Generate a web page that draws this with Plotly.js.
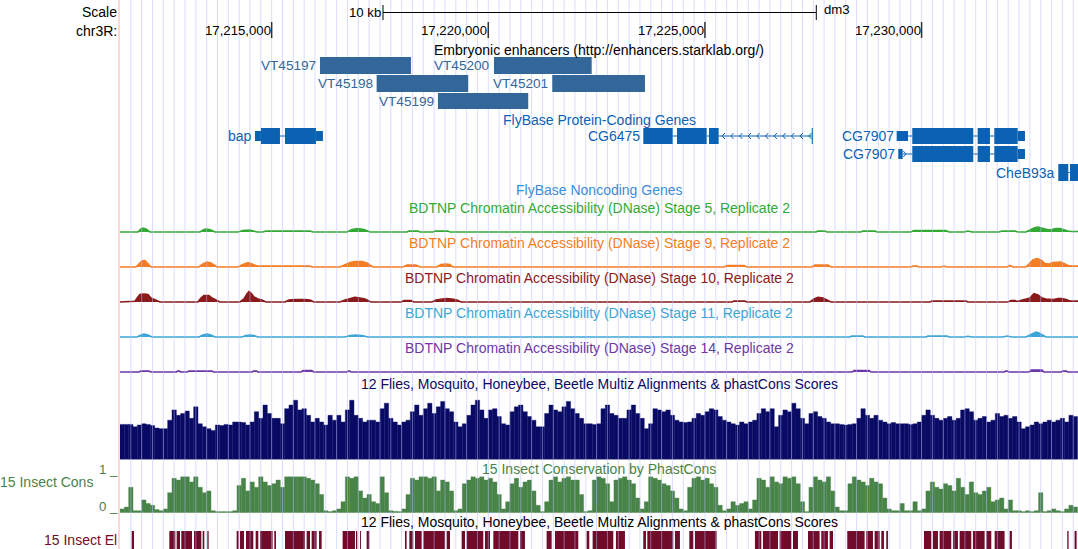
<!DOCTYPE html>
<html><head><meta charset="utf-8">
<script src="https://cdn.plot.ly/plotly-3.0.1.min.js"></script>
<style>html,body{margin:0;padding:0;background:#fff;}#chart{width:1078px;height:549px;}</style>
</head><body><div id="chart"></div>
<script>
// ---------------- data ----------------
const viewStart = 17211500, viewEnd = 17233610;
const tickVals = [17215000, 17220000, 17225000, 17230000];
const tickText = ['17,215,000', '17,220,000', '17,225,000', '17,230,000'];
const scaleBarStart = 17217570, scaleBarLen = 10000;

const enhancerNames = ['VT45197', 'VT45198', 'VT45199', 'VT45200', 'VT45201'];
const enhancerStart = [17216115, 17217423, 17218838, 17220131, 17221476];
const enhancerEnd   = [17218215, 17219537, 17220922, 17222386, 17223616];
const enhancerRow   = [0, 1, 2, 0, 1];

const geneNames  = ['bap', 'CG6475', 'CG7907', 'CG7907', 'CheB93a'];
const geneRows   = [0, 0, 0, 1, 2];
const geneStrand = ['+', '-', '+', '+', '-'];
// [start, end, coding(1)/UTR(0)]
const geneBlocks = [
  [[17214615,17214753,0],[17214753,17215192,1],[17215307,17216022,1],[17216022,17216184,0]],
  [[17223577,17224255,1],[17224354,17225040,1],[17225093,17225317,1],[17227465,17227490,1]],
  [[17229425,17229686,0],[17229785,17231193,1],[17231294,17231578,1],[17231678,17232218,1],[17232218,17232386,0]],
  [[17229462,17229563,0],[17229785,17231193,1],[17231294,17231578,1],[17231678,17232218,1],[17232218,17232386,0]],
  [[17233155,17233386,1],[17233425,17233700,1]]
];

// DNase accessibility signal (position bp, signal)
const dnase5X = [17211914,17211983,17212030,17212099,17212191,17213345,17213437,17213506,17213599,17213691,17214222,17214337,17214499,17214661,17214799,17214868,17215884,17215953,17216738,17216853,17216992,17217130,17217269,17218123,17218169,17218377,17218423,17218723,17218769,17219069,17219115,17227562,17227608,17227770,17227816,17228600,17228647,17228924,17228970,17229754,17229824,17230562,17230632,17230978,17231070,17231162,17231786,17231855,17232155,17232224,17232409,17232501,17232593,17232686,17232778,17232870,17232940,17233009,17233101,17233194,17233286,17233378,17233471,17233609];
const dnase5Y = [0,3,4,3,0,0,2.5,3,2,0,0,1.5,2,0,0,1,1,0,0,2.5,3.5,2.5,0,0,1,1,0,0,1,1,0,0,1,1,0,0,1,1,0,0,1.5,1.5,0,0,1,0,0,1,1,0,0,2,4,5,4,2.5,2,2.5,3.5,3.5,2,1,0.5,0.5];
const dnase9X = [17211868,17211937,17212006,17212076,17212145,17212214,17213322,17213414,17213506,17213599,17213737,17214222,17214337,17214453,17214545,17214661,17215884,17215930,17216576,17216692,17216807,17216923,17217084,17217200,17217338,17218030,17218123,17218330,17218423,17218815,17218907,17219023,17219115,17219184,17225439,17225509,17225901,17225970,17227470,17227539,17227839,17227908,17229754,17229801,17229893,17229939,17230447,17230516,17230585,17231971,17232040,17232109,17232409,17232478,17232570,17232663,17232755,17232847,17232940,17233032,17233124,17233217,17233309,17233378,17233471,17233609];
const dnase9Y = [0,3,6,6.5,3,0,0,3,5,4,0,0,2.5,4.3,3,1,1,0,0,2.5,4.5,5.5,5.5,4,0,0,2,2,0,0,2.5,3,2.5,0,0,1.5,1.5,0,0,2,2,0,0,1,1,0,0,1,0,0,1.5,0,0,3,7,8.5,7,3.5,3,4.5,5,5,3,1.5,1,1];
const dnase10X = [17211568,17211614,17211845,17211914,17211960,17212053,17212145,17212214,17212306,17212422,17213299,17213368,17213437,17213553,17213622,17213714,17213807,17214268,17214361,17214430,17214476,17214522,17214592,17214684,17214776,17214868,17215307,17215399,17215538,17215768,17215884,17215976,17216576,17216692,17216807,17216923,17217038,17217154,17217292,17217992,17218053,17218215,17218284,17218700,17218792,17218907,17219023,17219161,17219277,17219369,17225624,17225670,17225924,17225970,17227424,17227516,17227608,17227724,17227816,17227908,17230193,17230239,17231024,17231070,17231994,17232063,17232155,17232201,17232501,17232593,17232686,17232778,17232870,17232963,17233055,17233147,17233240,17233332,17233424,17233609];
const dnase10Y = [0,0.7,0.7,5,7.5,8,7.5,4,2,0,0,4,6.5,6.5,4,2,0,0,3,8,10.5,9,5,3,2,0,0,2,2.5,2.5,2,0,0,2,3.5,4.7,4,3,0,0,1.5,1.5,0,0,2,3,3.5,3,2,0,0,1,1,0,0,3,4.6,4,2,0,0,1,1,0,0,1.5,1.5,0.5,4,8.4,7,4,3,2.5,2.5,3.5,3.5,2.5,1,1];
const dnase11X = [17211891,17211983,17212053,17212145,17212237,17213322,17213414,17213506,17213599,17213691,17214315,17214407,17214499,17214592,17214684,17216692,17216807,17216946,17217084,17217223,17228347,17228393,17228647,17228693,17230101,17230147,17230585,17230632,17230978,17231070,17231162,17231878,17231971,17232086,17232409,17232501,17232593,17232640,17232709,17232778,17232870];
const dnase11Y = [0,2,3,2,0,0,2,3,2,0,0,1.5,2,1.5,0,0,1.5,2,1.5,0,0,1,1,0,0,1,1,0,0,0.8,0,0,1,0,0,2,4.5,5,4,2,0];
const dnase14X = [17211940,17211980,17212170,17212210,17212800,17212830,17212870,17212900,17213050,17213090,17213620,17213660,17214550,17214580,17214650,17214680,17215680,17215720,17215930,17215970,17216740,17216770,17216800,17216830,17228400,17228440,17228790,17228830,17231910,17231940,17231980,17232010,17232480,17232530,17232780,17232820,17233220,17233260,17233340,17233370];
const dnase14Y = [0,1,1,0,0,1,1,0,0,1,1,0,0,1,1,0,0,1.5,1.5,0,0,1,1,0,0,1.5,1.5,0,0,1,1,0,0,2,2,0,0,1,1,0];

// Multiz / phastCons, 100 bp bins from binStart
const binStart = 17211500, binSize = 100;
const multizScore = [58,58,58,54,57,59,58,56,52,51,51,
65,82,73,76,80,68,87,59,54,51,
48,57,56,58,57,62,62,61,57,62,
79,68,90,76,68,68,59,84,90,98,
82,84,73,62,68,62,57,73,65,73,
62,82,98,73,68,62,65,65,62,84,
93,68,62,57,62,65,79,90,73,84,
93,76,87,96,84,79,62,54,59,73,
90,98,82,68,82,84,71,59,57,79,
87,90,79,71,65,54,54,76,90,82,
79,87,96,84,76,68,59,59,58,59,
84,90,76,73,68,68,82,90,76,68,
51,59,84,82,79,82,73,65,62,61,
62,68,76,73,79,84,82,71,65,62,
59,57,62,59,62,65,76,84,79,84,
54,73,82,79,93,84,68,59,76,79,
71,68,62,59,59,58,57,58,59,68,
84,73,68,73,65,62,59,61,59,59,
59,58,59,62,73,82,73,68,65,68,
71,65,68,82,84,79,65,68,71,62,
65,76,71,73,68,71,62,51,54,57,
62,59,62,65,62,65,68,62,73,71];
const phastCons = [0.1,0.15,0.7,0.05,0.05,0.35,0.25,0.2,0.08,0.05,0.1,
0.55,0.95,0.9,1,1,0.85,1,0.7,0.55,0.6,
0.05,0.02,0.02,0.02,0.02,0.05,0.75,0.95,0.6,0.85,
0.7,1,0.85,0.75,0.8,0.9,0.7,1,1,1,
1,1,0.95,0.9,0.8,0.5,0.05,0.02,0.05,0.1,
0.3,1,0.95,1,0.6,0.4,0.5,0.3,0.25,1,
0.55,0.05,0.03,0.02,0.1,0.5,0.95,0.9,1,1,
0.95,1,0.6,0.9,0.85,0.6,0.05,0.1,0.8,0.9,
1,0.95,1,0.9,0.95,0.85,0.5,0.1,0.3,0.8,
0.95,0.7,0.85,0.9,0.6,0.2,0.02,0.3,0.9,1,
0.85,0.95,1,0.9,0.9,0.5,0.02,0.05,0.9,1,
0.95,0.8,0.3,0.9,0.95,1,0.9,0.8,0.4,0.1,
0.3,1,0.95,0.9,0.8,0.75,0.6,0.4,0.1,0.05,
0.7,0.95,1,0.9,0.95,0.8,0.7,0.2,0.05,0.1,
0.3,0.2,0.25,0.3,0.1,0.35,0.95,0.9,0.7,1,
0.85,0.8,1,0.95,1,0.8,0.3,0.02,0.7,1,
0.9,0.85,1,0.6,0.15,0.05,0.05,0.8,1,0.9,
0.85,0.75,0.95,0.85,0.8,0.4,0.1,0.05,0.05,0.25,
0.05,0.05,0.3,0.05,0.1,0.6,0.85,0.7,0.65,0.8,
0.75,0.6,0.95,0.7,0.5,0.85,0.55,0.5,0.6,0.7,
0.3,0.35,0.4,0.1,0.35,0.05,0.05,0.02,0.05,0.02,
0.05,0.55,0.02,0.05,0.1,0.05,0.02,0.1,0.2,0.15];

// 15 Insect conserved elements
const elStart = [17211769,17212638,17212808,17212915,17213208,17213408,17213515,17214192,17214269,17214408,17214631,17214731,17215061,17215308,17215808,17215923,17216092,17216638,17216946,17217038,17217192,17218077,17218177,17218308,17218500,17219039,17219385,17219500,17219923,17220116,17220731,17221346,17221539,17222269,17222408,17222946,17223577,17223670,17224308,17224639,17224770,17226154,17226339,17226724,17227032,17227378,17227685,17227878,17228285,17228724,17228916,17229070,17229185,17230055,17230262,17230416,17230724,17230878,17231185,17231493,17231686,17232032,17233362,17233531];
const elEnd   = [17211823,17212777,17212885,17213162,17213377,17213446,17213546,17214238,17214362,17214577,17214692,17215023,17215100,17215769,17215885,17216038,17216154,17216923,17216977,17217061,17217254,17218115,17218269,17218462,17219000,17219116,17219462,17219885,17220039,17220693,17220846,17221462,17222077,17222331,17222885,17223154,17223639,17224270,17224423,17224731,17225270,17226301,17226686,17226993,17227147,17227647,17227839,17227955,17228685,17228878,17229032,17229132,17229224,17230224,17230378,17230685,17230839,17231147,17231455,17231609,17231916,17232085,17233393,17233578];

// ---------------- drawing ----------------
const W = 1078, H = 549, L = 120, PW = 958;
const FONT = 'Liberation Sans, Arial, Helvetica, sans-serif';
const FS = 14, FS_NUM = 13.2, FS_ID = 13.6;
const C = {
  enh: 'rgb(51,102,153)', gene: 'rgb(12,98,178)', nonc: 'rgb(60,140,215)',
  s5: 'rgb(51,170,51)', s9: 'rgb(245,125,35)', s10: 'rgb(139,26,26)', s11: 'rgb(60,165,215)', s14: 'rgb(110,55,165)',
  multiz: 'rgb(8,10,100)', cons: 'rgb(72,132,72)', el: 'rgb(112,12,42)'
};
const P = p => 1 - p / H;          // pixel row -> paper
const PX = p => (p - L) / PW;      // pixel column -> paper
const shapes = [], annotations = [];
function txt(t, x, xref, y, color, xanchor, xshift, size) {
  annotations.push({text: t, x: x, xref: xref, y: P(y), yref: 'paper', xanchor: xanchor || 'center',
    yanchor: 'middle', xshift: xshift || 0, showarrow: false, font: {family: FONT, size: size || FS, color: color}});
}
function rect(x0, x1, y0, y1, color) {
  shapes.push({type: 'rect', xref: 'x', yref: 'paper', x0: x0, x1: x1, y0: P(y1), y1: P(y0),
    fillcolor: color, line: {width: 0}, layer: 'above'});
}
function hline(x0, x1, y, color, w, xref) {
  shapes.push({type: 'line', xref: xref || 'x', yref: 'paper', x0: x0, x1: x1, y0: P(y), y1: P(y), line: {color: color, width: w || 1}, layer: 'above'});
}
function vline(x, y0, y1, color, w, xref) {
  shapes.push({type: 'line', xref: xref || 'x', yref: 'paper', x0: x, x1: x, y0: P(y1), y1: P(y0), line: {color: color, width: w || 1}, layer: 'above'});
}

// conserved elements (below guidelines)
elStart.forEach((s, i) => rect(s, elEnd[i], 531, 549, C.el));

// guidelines every 250 bp
for (let g = Math.ceil(viewStart / 250) * 250 + 250; g <= viewEnd; g += 250) {
  vline(g, 0, 549, 'rgba(185,185,255,0.5)', 1);
}
// left border
vline(PX(119), 0, 549, 'rgb(255,215,215)', 2, 'paper');

// Scale row
txt('Scale', PX(117), 'paper', 12, '#000', 'right', 2);
txt('chr3R:', PX(117), 'paper', 31, '#000', 'right', 2);
hline(scaleBarStart, scaleBarStart + scaleBarLen, 12.5, '#000', 1);
vline(scaleBarStart, 5, 20, '#000', 1);
vline(scaleBarStart + scaleBarLen, 5, 20, '#000', 1);
txt('10 kb', scaleBarStart, 'x', 12, '#000', 'right', 0, FS_NUM);
txt('dm3', scaleBarStart + scaleBarLen, 'x', 9, '#000', 'left', 6, FS_NUM);
tickVals.forEach((v, i) => {
  vline(v, 22, 38, '#333', 1.5);
  txt(tickText[i], v, 'x', 31, '#000', 'right', 1, FS_NUM);
});

// track titles
txt('Embryonic enhancers (http://enhancers.starklab.org/)', 0.5, 'paper', 50, '#000');
txt('FlyBase Protein-Coding Genes', 0.5, 'paper', 120, C.gene);
txt('FlyBase Noncoding Genes', 0.5, 'paper', 190, C.nonc);
const stageNames = ['5', '9', '10', '11', '14'];
const stageColors = [C.s5, C.s9, C.s10, C.s11, C.s14];
const stageTitleY = [208, 243, 278, 313, 348];
const stageBase = [232, 267, 302, 337, 372];
stageNames.forEach((s, i) => txt('BDTNP Chromatin Accessibility (DNase) Stage ' + s + ', Replicate 2', 0.5, 'paper', stageTitleY[i], stageColors[i]));
txt('12 Flies, Mosquito, Honeybee, Beetle Multiz Alignments &amp; phastCons Scores', 0.5, 'paper', 384, C.multiz);
txt('15 Insect Conservation by PhastCons', 0.5, 'paper', 469, C.cons);
txt('12 Flies, Mosquito, Honeybee, Beetle Multiz Alignments &amp; phastCons Scores', 0.5, 'paper', 522, '#000');
txt('15 Insect Cons', PX(93), 'paper', 482, C.cons, 'right', 2);
txt('1 _', PX(118), 'paper', 469, C.cons, 'right', 2, FS_NUM);
txt('0 _', PX(118), 'paper', 506, C.cons, 'right', 2, FS_NUM);
txt('15 Insect El', PX(117), 'paper', 540, C.el, 'right', 2);

// enhancers
const enhRowY = [[57, 74], [75, 92], [93, 109]];
enhancerNames.forEach((n, i) => {
  const r = enhRowY[enhancerRow[i]];
  rect(enhancerStart[i], enhancerEnd[i], r[0], r[1], C.enh);
  txt(n, enhancerStart[i], 'x', (r[0] + r[1]) / 2, C.enh, 'right', -2, FS_ID);
});

// genes
const geneRowY = [[128, 144], [146, 162], [164, 181]];
geneNames.forEach((n, gi) => {
  const r = geneRowY[geneRows[gi]];
  const yc = (r[0] + r[1]) / 2;
  const blocks = geneBlocks[gi];
  for (let b = 0; b < blocks.length - 1; b++) {
    const s = blocks[b][1], e = blocks[b + 1][0];
    if (e > s) {
      hline(s, e, yc, C.gene, 1);
      if (e - s > 150) {
        for (let c = s + 80; c < e - 60; c += 200) {
          const dir = geneStrand[gi] === '-' ? 1 : -1;
          shapes.push({type: 'path', xref: 'x', yref: 'paper', layer: 'above',
            path: 'M' + (c + dir * 65) + ',' + P(yc - 3) + ' L' + c + ',' + P(yc) + ' L' + (c + dir * 65) + ',' + P(yc + 3),
            line: {color: C.gene, width: 1}});
        }
      }
    }
  }
  blocks.forEach(b => {
    if (b[2]) rect(b[0], b[1], r[0], r[1], C.gene);
    else rect(b[0], b[1], r[0] + 3, r[1] - 3, C.gene);
  });
  txt(n, blocks[0][0], 'x', yc, C.gene, 'right', -1);
});

// cons baseline
shapes.push({type: 'line', xref: 'paper', yref: 'y2', x0: 0, x1: 1, y0: 0, y1: 0, line: {color: C.cons, width: 1.5}, layer: 'below'});

// ---------------- traces ----------------
const traces = [];
traces.push({type: 'bar', x: multizScore.map((v, i) => binStart + binSize * (i + 0.5)), y: multizScore, width: binSize,
  marker: {color: C.multiz, line: {width: 0.4, color: C.multiz}}, xaxis: 'x', yaxis: 'y', hoverinfo: 'skip'});
traces.push({type: 'bar', x: phastCons.map((v, i) => binStart + binSize * (i + 0.5)), y: phastCons, width: binSize,
  marker: {color: C.cons, line: {width: 0.4, color: C.cons}}, xaxis: 'x', yaxis: 'y2', hoverinfo: 'skip'});
const dnX = [dnase5X, dnase9X, dnase10X, dnase11X, dnase14X];
const dnY = [dnase5Y, dnase9Y, dnase10Y, dnase11Y, dnase14Y];
dnX.forEach((xs, i) => {
  const ys = dnY[i];
  traces.push({type: 'scatter', mode: 'lines', x: [viewStart].concat(xs, [viewEnd]), y: [0].concat(ys, [ys[ys.length - 1]]),
    fill: 'tozeroy', fillcolor: stageColors[i], line: {color: stageColors[i], width: 1.6},
    xaxis: 'x', yaxis: 'y' + (i + 3), hoverinfo: 'skip'});
});

const layout = {
  width: W, height: H, margin: {l: L, r: 0, t: 0, b: 0}, showlegend: false,
  paper_bgcolor: '#fff', plot_bgcolor: '#fff', barmode: 'overlay', bargap: 0,
  xaxis: {range: [viewStart, viewEnd], visible: false, fixedrange: true},
  yaxis: {domain: [P(459.5), P(399)], range: [0, 100], visible: false, fixedrange: true},
  yaxis2: {domain: [P(512.5), P(476.5)], range: [0, 1], visible: false, fixedrange: true},
  shapes: shapes, annotations: annotations
};
stageBase.forEach((b, i) => {
  layout['yaxis' + (i + 3)] = {domain: [P(b + 1), P(b - 14)], range: [-1, 14], visible: false, fixedrange: true};
});
Plotly.newPlot('chart', traces, layout, {staticPlot: true, displayModeBar: false});
</script>
</body></html>
